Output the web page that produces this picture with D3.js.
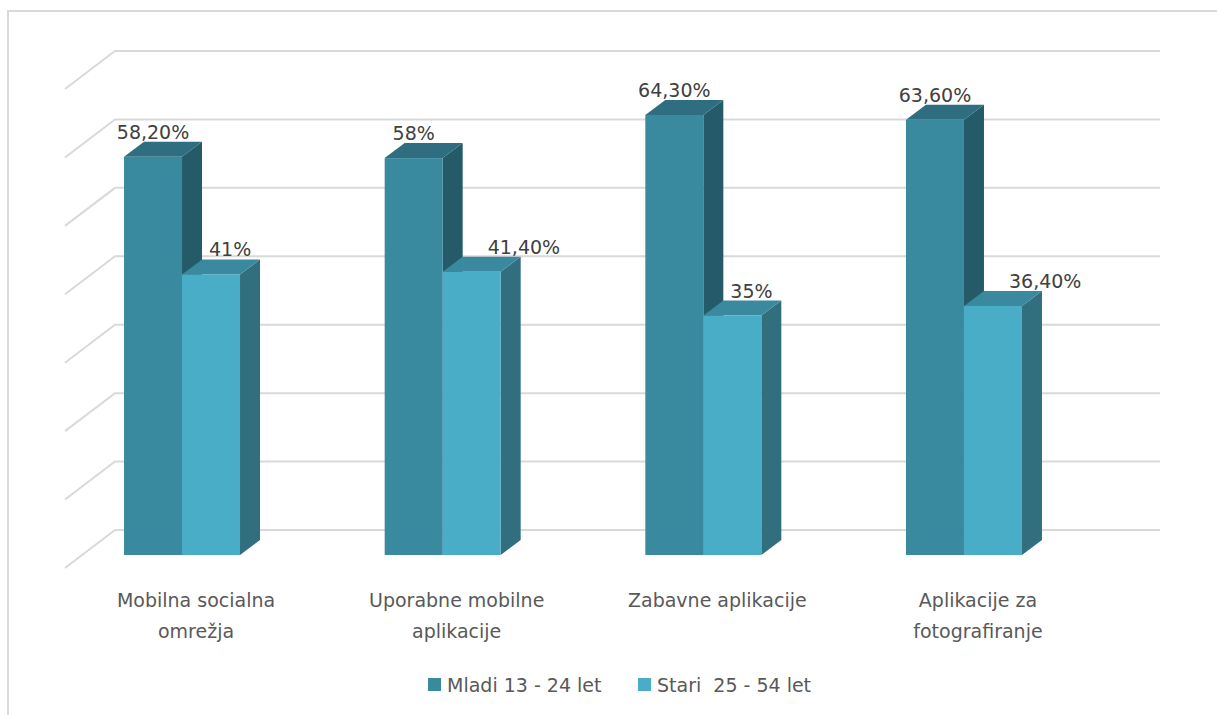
<!DOCTYPE html>
<html>
<head>
<meta charset="utf-8">
<script src="https://d3js.org/d3.v7.min.js"></script>
<style>
  body { margin: 0; background: #fff; }
  text { font-family: "DejaVu Sans", Verdana, sans-serif; fill: #404040; }
</style>
</head>
<body>
<div id="chart"></div>
<script>
// data
var categories = [["Mobilna socialna", "omrežja"], ["Uporabne mobilne", "aplikacije"], ["Zabavne aplikacije"], ["Aplikacije za", "fotografiranje"]];
var series = ["Mladi 13 - 24 let", "Stari  25 - 54 let"];
var mladi = [0.582, 0.58, 0.643, 0.636];
var stari = [0.41, 0.414, 0.35, 0.364];
var valueLabels = [["58,20%", "58%", "64,30%", "63,60%"], ["41%", "41,40%", "35%", "36,40%"]];
var gridTicks = [0, 0.1, 0.2, 0.3, 0.4, 0.5, 0.6, 0.7];

// colours: front, side, top
var faces = [
  {front: "#3a8a9f", side: "#255a68", top: "#2e6e80"},
  {front: "#4aadc7", side: "#316e7e", top: "#3a899e"}
];

var width = 1217, height = 715;
var depthX = 20, depthY = -15;     // bar depth
var wallX = 50, wallY = 25;        // offset of back wall from bar front plane

var svg = d3.select("#chart").append("svg")
    .attr("width", width)
    .attr("height", height);

// outer frame
svg.append("rect")
    .attr("x", 8).attr("y", 11)
    .attr("width", 1230).attr("height", 720)
    .style("fill", "none")
    .style("stroke", "#d9d9d9")
    .style("stroke-width", 2);

var catIdx = d3.range(categories.length);

// front-plane scales
var x0 = d3.scaleBand()
    .domain(catIdx)
    .range([51.7, 1094.3]);
var x1 = d3.scaleBand()
    .domain([0, 1])
    .range([0, 116]);
var y = d3.scaleLinear()
    .domain([0, 0.7])
    .range([555, 76]);

var barX = function(c, s) { return x0(c) + (x0.bandwidth() - 116) / 2 + x1(s); };

// gridlines on back wall + side wall
var grid = svg.append("g");
gridTicks.forEach(function(t) {
  var yy = y(t) - wallY;
  grid.append("path")
      .attr("d", "M65," + (yy + 38) + "L115," + yy + "H1160")
      .style("fill", "none")
      .style("stroke", "#d9d9d9")
      .style("stroke-width", 2);
});

// bars
var bars = svg.append("g");
catIdx.forEach(function(c) {
  [mladi, stari].forEach(function(vals, s) {
    var bx = barX(c, s), bw = x1.bandwidth();
    var top = y(vals[c]), bot = y(0);
    var col = faces[s];
    var g = bars.append("g");
    // side face
    g.append("path")
        .attr("d", "M" + (bx + bw) + "," + top +
          "L" + (bx + bw + depthX) + "," + (top + depthY) +
          "L" + (bx + bw + depthX) + "," + (bot + depthY) +
          "L" + (bx + bw) + "," + bot + "Z")
        .style("fill", col.side);
    // top face
    g.append("path")
        .attr("d", "M" + bx + "," + top +
          "L" + (bx + depthX) + "," + (top + depthY) +
          "L" + (bx + bw + depthX) + "," + (top + depthY) +
          "L" + (bx + bw) + "," + top + "Z")
        .style("fill", col.top);
    // front face
    g.append("rect")
        .attr("x", bx).attr("y", top)
        .attr("width", bw).attr("height", bot - top)
        .style("fill", col.front);
  });
});

// value labels
var labels = svg.append("g").style("font-size", "19px");
catIdx.forEach(function(c) {
  [mladi, stari].forEach(function(vals, s) {
    var bx = barX(c, s), bw = x1.bandwidth();
    var t = labels.append("text")
        .attr("y", y(vals[c]) + depthY - 3)
        .text(valueLabels[s][c]);
    if (s === 0) {
      t.attr("x", bx + bw / 2).style("text-anchor", "middle");
    } else {
      // keep clear of the taller neighbour
      var w = t.node().getComputedTextLength();
      var left = Math.max(bx + bw / 2 - w / 2, bx + depthX + 7);
      if (w > 55) left += 18;
      t.attr("x", left).style("text-anchor", "start");
    }
  });
});

// category labels
var catLabels = svg.append("g")
    .style("font-size", "19px")
    .style("text-anchor", "middle");
catIdx.forEach(function(c) {
  var t = catLabels.append("text")
      .attr("x", x0(c) + x0.bandwidth() / 2 + 14)
      .attr("y", 607)
      .style("fill", "#595959");
  categories[c].forEach(function(line, i) {
    t.append("tspan")
        .attr("x", x0(c) + x0.bandwidth() / 2 + 14)
        .attr("dy", i === 0 ? 0 : 31)
        .text(line);
  });
});

// legend
var legend = svg.append("g").style("font-size", "19px");
var legendX = [428, 638];
series.forEach(function(name, i) {
  legend.append("rect")
      .attr("x", legendX[i]).attr("y", 678)
      .attr("width", 13).attr("height", 13)
      .style("fill", faces[i].front);
  legend.append("text")
      .attr("x", legendX[i] + 19)
      .attr("y", 692)
      .style("fill", "#595959")
      .style("white-space", "pre")
      .text(name);
});
</script>
</body>
</html>
